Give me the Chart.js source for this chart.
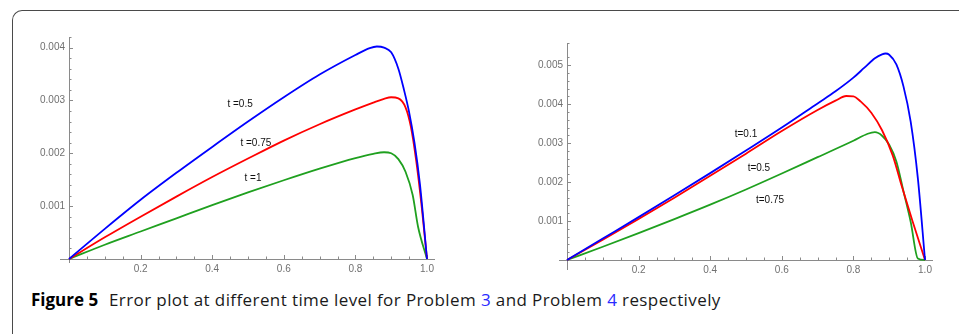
<!DOCTYPE html>
<html>
<head>
<meta charset="utf-8">
<script src="https://cdn.jsdelivr.net/npm/chart.js@4.4.0/dist/chart.umd.min.js"></script>
<style>
  body { margin: 0; background: #fff; width: 959px; height: 336px; overflow: hidden; position: relative; }
  .frame { position: absolute; left: 12px; top: 10px; width: 980px; height: 323px;
           border-left: 1.5px solid #4a4a4a; border-top: 1.5px solid #4a4a4a; border-top-left-radius: 10px; }
  #p3 { position: absolute; left: 0; top: 0; }
  #p4 { position: absolute; left: 480px; top: 0; }
  .caption { position: absolute; left: 31px; top: 290px; font: 17px "Open Sans", sans-serif; line-height: 20px;
             letter-spacing: 0.4px; color: #1a1a1a; white-space: nowrap; }
  .caption b { font-weight: 700; color: #000; letter-spacing: 0; margin-right: 6px; }
  .caption span { color: #2a2aff; }
</style>
</head>
<body>
<div class="frame"></div>
<canvas id="p3" width="480" height="280"></canvas>
<canvas id="p4" width="479" height="280"></canvas>
<div class="caption"><b>Figure 5</b> Error plot at different time level for Problem <span>3</span> and Problem <span>4</span> respectively</div>
<script>
// Problem 3 (left plot)
const p3X_05  = [0, 0.1, 0.2, 0.3, 0.4, 0.5, 0.6, 0.7, 0.8, 0.84, 0.86, 0.88, 0.9, 0.92, 0.935, 0.95, 0.965, 0.98, 1.0];
const p3Y_05  = [0, 0.00057, 0.00112, 0.00163, 0.00212, 0.0026, 0.00306, 0.00349, 0.00386, 0.00399, 0.00402, 0.004, 0.00391, 0.0036, 0.00322, 0.00278, 0.0022, 0.00143, 0];
const p3X_075 = [0, 0.1, 0.2, 0.3, 0.4, 0.5, 0.6, 0.7, 0.8, 0.85, 0.88, 0.9, 0.92, 0.94, 0.955, 0.97, 0.985, 1.0];
const p3Y_075 = [0, 0.00041, 0.0008, 0.00118, 0.00155, 0.0019, 0.00224, 0.00255, 0.00283, 0.00296, 0.00303, 0.00306, 0.00304, 0.00287, 0.0025, 0.00185, 0.001, 0];
const p3X_1   = [0, 0.1, 0.2, 0.3, 0.4, 0.5, 0.6, 0.7, 0.8, 0.85, 0.88, 0.9, 0.92, 0.94, 0.96, 0.975, 1.0];
const p3Y_1   = [0, 0.00027, 0.00052, 0.00077, 0.00102, 0.00126, 0.00149, 0.00171, 0.00191, 0.00199, 0.00202, 0.002, 0.00189, 0.00165, 0.00121, 0.00061, 0];

// Problem 4 (right plot)
const p4X_01  = [0, 0.1, 0.2, 0.3, 0.4, 0.5, 0.6, 0.7, 0.75, 0.8, 0.83, 0.86, 0.88, 0.89, 0.9, 0.92, 0.94, 0.96, 0.98, 1.0];
const p4Y_01  = [0, 0.00055, 0.0011, 0.00166, 0.00223, 0.00281, 0.0034, 0.00402, 0.00433, 0.00468, 0.00493, 0.00518, 0.00528, 0.0053, 0.00527, 0.00502, 0.00445, 0.00355, 0.0021, 0];
const p4X_05  = [0, 0.1, 0.2, 0.3, 0.4, 0.5, 0.6, 0.7, 0.75, 0.78, 0.8, 0.82, 0.85, 0.88, 0.91, 0.935, 0.965, 1.0];
const p4Y_05  = [0, 0.00052, 0.00105, 0.0016, 0.00216, 0.00273, 0.00331, 0.00385, 0.00409, 0.00421, 0.0042, 0.00407, 0.00378, 0.00333, 0.00268, 0.0019, 0.001, 0];
const p4X_075 = [0, 0.1, 0.2, 0.3, 0.4, 0.5, 0.6, 0.7, 0.8, 0.84, 0.86, 0.88, 0.9, 0.92, 0.94, 0.96, 0.98, 1.0];
const p4Y_075 = [0, 0.00034, 0.00069, 0.00105, 0.00142, 0.00181, 0.00222, 0.00264, 0.00306, 0.00324, 0.00328, 0.00319, 0.00296, 0.00253, 0.00176, 0.00098, 0.00004, 0];

// tick labels
const xLabels   = [0.2, 0.4, 0.6, 0.8, 1.0];
const p3YLabels = [0.001, 0.002, 0.003, 0.004];
const p4YLabels = [0.001, 0.002, 0.003, 0.004, 0.005];

// curve labels: text, x, y (data units)
const p3Notes = [['t =0.5', 0.478, 0.00292], ['t =0.75', 0.522, 0.00219], ['t =1', 0.514, 0.00152]];
const p4Notes = [['t=0.1', 0.5, 0.00324], ['t=0.5', 0.536, 0.00236], ['t=0.75', 0.567, 0.00154]];

const pts = (xs, ys) => xs.map((x, i) => ({ x: x, y: ys[i] }));

const line = (data, color) => ({
    data: data,
    borderColor: color,
    borderWidth: 1.8,
    pointRadius: 0,
    cubicInterpolationMode: 'monotone',
    clip: false
});

const near = (v, list) => list.find(l => Math.abs(v - l) < 1e-9);

// Mathematica-style axes: lines through 0 with inward ticks
const axesPlugin = {
    id: 'mmaAxes',
    beforeDatasetsDraw(chart, args, opts) {
        const { ctx, chartArea: a } = chart;
        const xs = chart.scales.x, ys = chart.scales.y;
        const x0 = xs.getPixelForValue(0), y0 = ys.getPixelForValue(0);
        ctx.save();
        ctx.strokeStyle = '#8a8a8a';
        ctx.lineWidth = 1;
        ctx.beginPath();
        ctx.moveTo(a.left - opts.padL, y0 + 0.5);
        ctx.lineTo(a.right + opts.padR, y0 + 0.5);
        ctx.moveTo(x0 + 0.5, a.top);
        ctx.lineTo(x0 + 0.5, a.bottom + opts.padB);
        xs.ticks.forEach(t => {
            const px = Math.round(xs.getPixelForValue(t.value)) + 0.5;
            const len = near(t.value, xLabels) !== undefined ? 4 : 2.5;
            ctx.moveTo(px, y0);
            ctx.lineTo(px, y0 - len);
        });
        ys.ticks.forEach(t => {
            const py = Math.round(ys.getPixelForValue(t.value)) + 0.5;
            const len = near(t.value, opts.yLabels) !== undefined ? 4 : 2.5;
            ctx.moveTo(x0, py);
            ctx.lineTo(x0 + len, py);
        });
        ctx.stroke();
        ctx.restore();
    },
    afterDatasetsDraw(chart, args, opts) {
        const { ctx } = chart;
        ctx.save();
        ctx.fillStyle = '#111';
        ctx.font = '10px "Liberation Sans", Arial, sans-serif';
        ctx.textAlign = 'center';
        ctx.textBaseline = 'middle';
        opts.notes.forEach(n => {
            ctx.fillText(n[0], chart.scales.x.getPixelForValue(n[1]), chart.scales.y.getPixelForValue(n[2]));
        });
        ctx.restore();
    }
};

function makePlot(id, datasets, cfg) {
    return new Chart(document.getElementById(id).getContext('2d'), {
        type: 'line',
        data: { datasets: datasets },
        plugins: [axesPlugin],
        options: {
            responsive: false,
            animation: false,
            layout: { padding: { left: 0, top: cfg.top, right: cfg.right, bottom: 0 } },
            plugins: {
                legend: { display: false },
                tooltip: { enabled: false },
                mmaAxes: { padL: cfg.padL, padR: cfg.padR, padB: cfg.padB, yLabels: cfg.yLabels, notes: cfg.notes }
            },
            scales: {
                x: {
                    type: 'linear', min: 0, max: 1,
                    afterFit: s => { s.height = cfg.xHeight; },
                    grid: { display: false, drawTicks: false },
                    border: { display: false },
                    ticks: {
                        stepSize: 0.05, autoSkip: false, maxRotation: 0, padding: 4,
                        color: '#707070', font: { family: '"Liberation Sans", Arial, sans-serif', size: 10 },
                        callback: v => { const l = near(v, xLabels); return l === undefined ? '' : l.toFixed(1); }
                    }
                },
                y: {
                    type: 'linear', min: 0, max: cfg.yMax,
                    afterFit: s => { s.width = cfg.yWidth; },
                    grid: { display: false, drawTicks: false },
                    border: { display: false },
                    ticks: {
                        stepSize: 0.0002, autoSkip: false, padding: 4,
                        color: '#707070', font: { family: '"Liberation Sans", Arial, sans-serif', size: 10 },
                        callback: v => { const l = near(v, cfg.yLabels); return l === undefined ? '' : l.toFixed(3); }
                    }
                }
            }
        }
    });
}

makePlot('p3', [
    line(pts(p3X_05, p3Y_05), '#0000ff'),
    line(pts(p3X_075, p3Y_075), '#ff0000'),
    line(pts(p3X_1, p3Y_1), '#1fa01f')
], { top: 37, right: 53, xHeight: 21, yWidth: 69, yMax: 0.0042, padL: 9, padR: 8, padB: 4, yLabels: p3YLabels, notes: p3Notes });

makePlot('p4', [
    line(pts(p4X_01, p4Y_01), '#0000ff'),
    line(pts(p4X_05, p4Y_05), '#ff0000'),
    line(pts(p4X_075, p4Y_075), '#1fa01f')
], { top: 43, right: 34, xHeight: 20, yWidth: 87, yMax: 0.00557, padL: 8, padR: 8, padB: 10, yLabels: p4YLabels, notes: p4Notes });
</script>
</body>
</html>
